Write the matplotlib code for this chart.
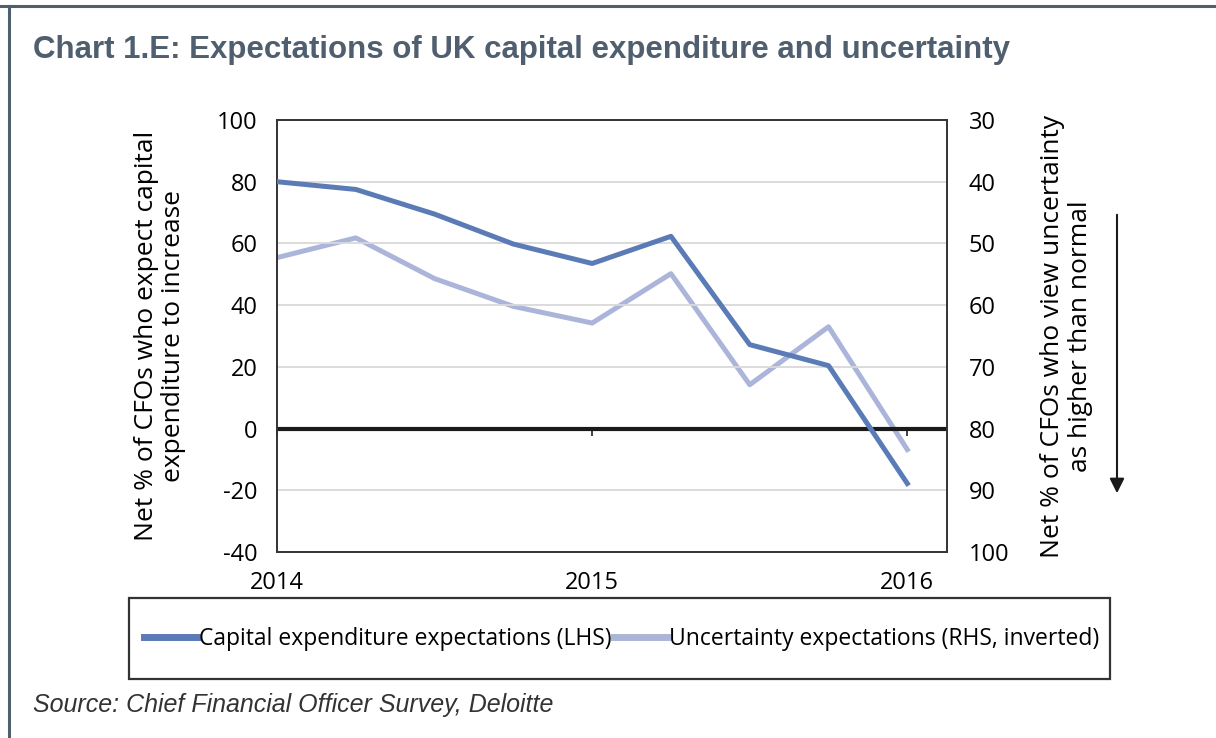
import matplotlib
matplotlib.use('Agg')
import matplotlib.pyplot as plt
from matplotlib.lines import Line2D
from matplotlib.patches import Rectangle, FancyArrowPatch

plt.rcParams['axes.unicode_minus'] = False

# quarterly survey, 2014 Q1 to 2016 Q1
quarters = list(range(9))
year_ticks = [0, 4, 8]
year_labels = ['2014', '2015', '2016']
capex = [80, 77.5, 69.5, 59.8, 53.5, 62.3, 27.2, 20.4, -17.8]
uncertainty = [52.3, 49.1, 55.7, 60.2, 62.9, 54.9, 72.9, 63.5, 83.4]

left_ticks = [-40, -20, 0, 20, 40, 60, 80, 100]
right_ticks = [30, 40, 50, 60, 70, 80, 90, 100]

dark_blue = '#5b7bb6'
light_blue = '#abb5d9'
title_col = '#4f5f6f'
tick_font = ['Open Sans', 'DejaVu Sans']

W, H = 1216, 738
fig = plt.figure(figsize=(W / 100, H / 100), dpi=100)

# outer frame lines (top and left only)
fig.add_artist(Line2D([0, 1], [1 - 6 / H, 1 - 6 / H], color=title_col, lw=2.2))
fig.add_artist(Line2D([9 / W, 9 / W], [0, 1 - 6 / H], color=title_col, lw=2.2))

fig.text(33 / W, 1 - 50 / H, 'Chart 1.E: Expectations of UK capital expenditure and uncertainty',
         fontsize=22.5, color=title_col, family=['Liberation Sans', 'DejaVu Sans'],
         weight='semibold', va='center', ha='left')

ax = fig.add_axes([277 / W, 1 - 552 / H, (946.7 - 277) / W, (552 - 120) / H])
ax.set_xlim(0, 8.5)
ax.set_ylim(-40, 100)
ax.set_yticks(left_ticks)
ax.set_xticks(year_ticks)
ax.set_xticklabels(year_labels)
ax.tick_params(axis='x', length=0, pad=14)
ax.tick_params(axis='y', length=0, pad=14)
for lab in ax.get_xticklabels() + ax.get_yticklabels():
    lab.set_fontsize(17)
    lab.set_family(tick_font)
ax.grid(axis='y', color='#d9d9d9', lw=1.3)
ax.set_axisbelow(True)
for s in ax.spines.values():
    s.set_color('#333333')
    s.set_linewidth(1.4)
ax.axhline(0, color='#1a1a1a', lw=3, zorder=2)

# small tick marks sitting on the zero line
sec = ax.secondary_xaxis(40 / 140)
sec.set_xticks(year_ticks)
sec.set_xticklabels([])
sec.tick_params(direction='out', length=5, width=1.3, color='#333333')
sec.spines['bottom'].set_visible(False)

ax.set_ylabel('Net % of CFOs who expect capital\nexpenditure to increase',
              fontsize=19, family=tick_font, labelpad=22, linespacing=1.15)

ax2 = ax.twinx()
ax2.set_ylim(100, 30)
ax2.set_yticks(right_ticks)
ax2.tick_params(axis='y', length=0, pad=16)
for lab in ax2.get_yticklabels():
    lab.set_fontsize(17)
    lab.set_family(tick_font)
for s in ax2.spines.values():
    s.set_visible(False)
ax2.set_ylabel('Net % of CFOs who view uncertainty\nas higher than normal',
               fontsize=19, family=tick_font, labelpad=22, linespacing=1.15)

ax.plot(quarters, capex, color=dark_blue, lw=3.6, zorder=4)
ax2.plot(quarters, uncertainty, color=light_blue, lw=3.6, zorder=3)
ax.set_zorder(ax2.get_zorder() + 1)
ax.patch.set_visible(False)

# downward arrow beside the right axis label
fig.add_artist(FancyArrowPatch(
    (1117 / W, 1 - 212 / H), (1117 / W, 1 - 496 / H), transform=fig.transFigure,
    arrowstyle='-|>', mutation_scale=22, color='#1a1a1a', lw=1.5))

# legend box
fig.add_artist(Rectangle((129 / W, 1 - 679 / H), (1110 - 129) / W, (679 - 598) / H,
                         transform=fig.transFigure, fill=False, ec='#333333', lw=1.6))
handles = [Line2D([], [], color=dark_blue, lw=5),
           Line2D([], [], color=light_blue, lw=5)]
fig.legend(handles, ['Capital expenditure expectations (LHS)',
                     'Uncertainty expectations (RHS, inverted)'],
           loc='center', bbox_to_anchor=(622 / W, 1 - 639 / H), ncol=2, frameon=False,
           handlelength=2.3, handletextpad=0.1, columnspacing=0.1,
           prop={'family': tick_font, 'size': 16.5})

fig.text(33 / W, 1 - 705 / H, 'Source: Chief Financial Officer Survey, Deloitte',
         fontsize=18, style='italic', color='#333333',
         family=['Liberation Sans', 'DejaVu Sans'], va='center', ha='left')

fig.savefig('out.png', dpi=100)
